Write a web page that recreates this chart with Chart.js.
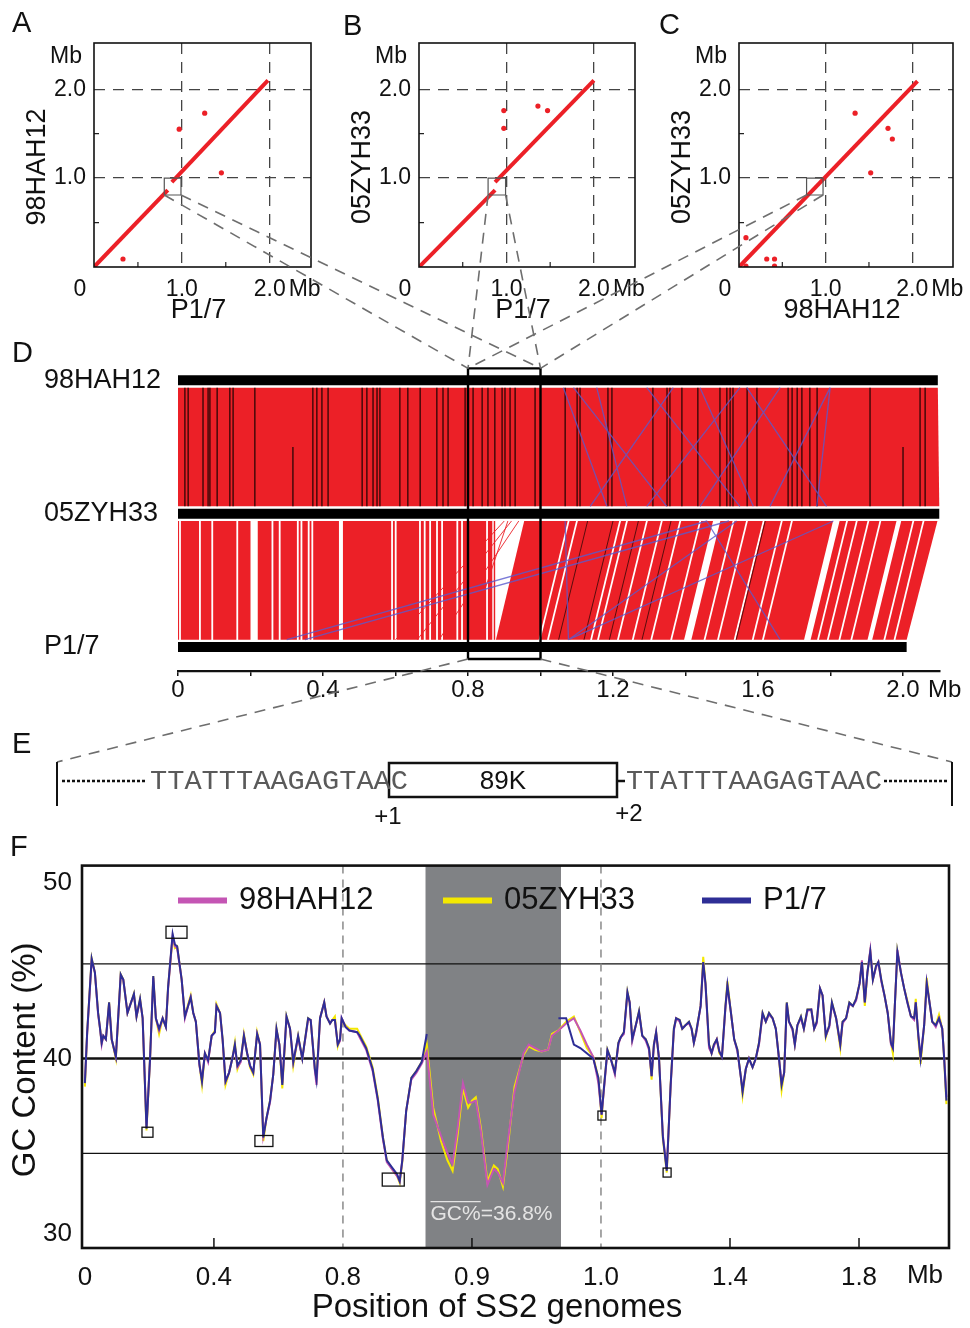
<!DOCTYPE html>
<html>
<head>
<meta charset="utf-8">
<title>SS2 genome comparison</title>
<script src="https://cdn.jsdelivr.net/npm/chart.js@4.4.1/dist/chart.umd.min.js"></script>
<style>
  html, body { margin: 0; padding: 0; background: #fff; }
  #page { position: relative; width: 970px; height: 1328px; overflow: hidden; }
  #page canvas, #page svg { position: absolute; }
</style>
</head>
<body>
<div id="page">
  <canvas id="dotA" width="320" height="330" style="left:0;top:0"></canvas>
  <canvas id="dotB" width="330" height="330" style="left:320px;top:0"></canvas>
  <canvas id="dotC" width="330" height="330" style="left:640px;top:0"></canvas>
  <canvas id="synteny" width="970" height="390" style="left:0;top:330px"></canvas>
  <canvas id="gcChart" width="970" height="488" style="left:0;top:840px"></canvas>
  <svg id="overlay" width="970" height="1328" style="left:0;top:0"></svg>
</div>
<script>
// ---------- data ----------
// A-C: dot plots (Mb), segments are [x0, y0, x1, y1]
const dotLinesA = [[0, 0, 0.84, 0.865], [0.886, 0.955, 1.98, 2.10]];
const dotPtsAx = [0.33, 0.97, 1.26, 1.45];
const dotPtsAy = [0.09, 1.55, 1.73, 1.06];
const boxA = [0.80, 0.81, 0.99, 1.00];

const dotLinesB = [[0, 0, 0.87, 0.865], [0.87, 0.955, 2.0, 2.10]];
const dotPtsBx = [0.97, 0.97, 1.36, 1.47];
const dotPtsBy = [1.76, 1.56, 1.81, 1.76];
const boxB = [0.79, 0.81, 0.99, 1.00];

const dotLinesC = [[0, 0, 2.06, 2.09]];
const dotPtsCx = [0.08, 0.32, 0.41, 0.41, 0.08, 1.34, 1.72, 1.77, 1.52];
const dotPtsCy = [0.33, 0.09, 0.09, 0.01, 0.01, 1.73, 1.56, 1.44, 1.06];
const boxC = [0.78, 0.81, 0.97, 1.00];

const dotTicks = [1, 2];
const dotMinorTicks = [0.5, 1.5];

// D: synteny between genomes
const genomeNames = ['98HAH12', '05ZYH33', 'P1/7'];
const genomeRows = [2, 1, 0];
const genomeLengths = [2.096, 2.10, 2.01];
const dZoomX = [0.8, 1.0];
const dZoomY = [-0.09, 2.09];
const dTickValues = [0, 0.2, 0.4, 0.6, 0.8, 1.0, 1.2, 1.4, 1.6, 1.8, 2.0];
const dTickLabels = ['0', '', '0.4', '', '0.8', '', '1.2', '', '1.6', '', '2.0'];

const topBlackLines = [0.019, 0.028, 0.069, 0.083, 0.088, 0.108, 0.143, 0.152, 0.212, 0.372, 0.383, 0.397,
  0.414, 0.508, 0.521, 0.538, 0.549, 0.557, 0.612, 0.634, 0.668, 0.714, 0.731, 0.745, 0.792, 0.814, 0.839,
  0.855, 0.874, 0.894, 0.902, 0.916, 0.930, 0.985, 1.068, 1.101, 1.109, 1.186, 1.197, 1.310, 1.349, 1.357,
  1.390, 1.434, 1.495, 1.514, 1.523, 1.531, 1.570, 1.597, 1.683, 1.694, 1.708, 1.721, 1.743, 1.763, 1.909,
  2.047, 2.061];
const topBlackShort = [0.317, 2.0];
const topLinks98 = [1.091, 1.155, 1.293, 1.550, 1.440, 1.569, 1.799, 1.799, 1.063, 1.366, 1.661];
const topLinks05 = [1.348, 1.238, 1.550, 1.293, 1.587, 1.789, 1.633, 1.762, 1.183, 1.137, 1.440];

// blocks 05ZYH33 vs P1/7: [top start, top end, bottom start, bottom end]
const bottomBlocks = [
  [0.000, 0.003, 0.000, 0.003], [0.008, 0.058, 0.008, 0.058], [0.063, 0.092, 0.063, 0.092],
  [0.097, 0.161, 0.097, 0.161], [0.166, 0.200, 0.166, 0.200], [0.220, 0.258, 0.220, 0.258],
  [0.263, 0.278, 0.263, 0.278], [0.283, 0.328, 0.283, 0.328], [0.333, 0.338, 0.333, 0.338],
  [0.343, 0.358, 0.343, 0.358], [0.363, 0.368, 0.363, 0.368], [0.373, 0.444, 0.373, 0.444],
  [0.455, 0.588, 0.455, 0.588], [0.593, 0.598, 0.593, 0.598], [0.603, 0.665, 0.603, 0.665],
  [0.670, 0.678, 0.670, 0.678], [0.683, 0.693, 0.683, 0.693], [0.698, 0.712, 0.698, 0.712],
  [0.717, 0.726, 0.717, 0.726], [0.731, 0.768, 0.731, 0.768], [0.773, 0.781, 0.773, 0.781],
  [0.786, 0.850, 0.786, 0.850], [0.855, 0.867, 0.855, 0.867], [0.871, 0.875, 0.871, 0.875],
  [0.955, 1.075, 0.877, 0.995], [1.080, 1.098, 1.000, 1.018], [1.103, 1.217, 1.023, 1.137],
  [1.222, 1.236, 1.142, 1.156], [1.241, 1.291, 1.161, 1.211], [1.296, 1.332, 1.216, 1.252],
  [1.337, 1.383, 1.257, 1.303], [1.388, 1.438, 1.308, 1.358], [1.443, 1.476, 1.363, 1.396],
  [1.496, 1.530, 1.416, 1.450], [1.535, 1.567, 1.455, 1.487], [1.572, 1.613, 1.492, 1.533],
  [1.618, 1.663, 1.538, 1.583], [1.668, 1.691, 1.588, 1.611], [1.696, 1.807, 1.616, 1.727],
  [1.825, 1.843, 1.745, 1.763], [1.848, 1.870, 1.768, 1.790], [1.875, 1.902, 1.795, 1.822],
  [1.907, 1.935, 1.827, 1.855], [1.940, 1.982, 1.860, 1.902], [1.995, 2.026, 1.915, 1.946],
  [2.031, 2.054, 1.951, 1.974], [2.059, 2.095, 1.979, 2.010]
];
const bottomBlackTop = [1.13, 1.20, 1.27, 1.36, 1.62];
const bottomBlackBot = [1.05, 1.12, 1.19, 1.28, 1.54];
const bottomLinks05 = [1.808, 1.541, 1.068, 1.458, 1.46, 1.52];
const bottomLinksP17 = [1.077, 1.077, 1.077, 1.661, 0.30, 0.35];
const bottomRedLinks05 = [0.90, 0.92, 0.94, 0.91];
const bottomRedLinksP17 = [0.60, 0.66, 0.72, 0.80];

// F: GC content (%) along genome position (Mb)
const gcSeriesNames = ['98HAH12', '05ZYH33', 'P1/7'];
const gcPos = [
  0.000, 0.007, 0.021, 0.031, 0.041, 0.047, 0.052, 0.057, 0.065, 0.075,
  0.083, 0.096, 0.111, 0.119, 0.132, 0.145, 0.152, 0.160, 0.171, 0.179,
  0.191, 0.202, 0.212, 0.220, 0.230, 0.241, 0.251, 0.258, 0.272, 0.279,
  0.286, 0.300, 0.310, 0.320, 0.328, 0.336, 0.344, 0.355, 0.363, 0.372,
  0.382, 0.393, 0.403, 0.408, 0.419, 0.427, 0.436, 0.447, 0.457, 0.465,
  0.473, 0.483, 0.493, 0.503, 0.512, 0.522, 0.534, 0.543, 0.553, 0.563,
  0.574, 0.584, 0.594, 0.603, 0.612, 0.625, 0.636, 0.646, 0.661, 0.674,
  0.692, 0.700, 0.713, 0.718, 0.729, 0.742, 0.749, 0.760, 0.767, 0.775,
  0.784, 0.791, 0.796, 0.802, 0.805, 0.811, 0.813, 0.818, 0.823, 0.827,
  0.831, 0.834, 0.838, 0.842, 0.844, 0.846, 0.849, 0.853, 0.857, 0.861,
  0.865, 0.870, 0.876, 0.881, 0.885, 0.889, 0.893, 0.897, 0.900, 0.903,
  0.907, 0.912, 0.917, 0.920, 0.924, 0.928, 0.933, 0.940, 0.944, 0.949,
  0.954, 0.959, 0.962, 0.967, 0.973, 0.979, 0.984, 0.989, 0.994, 0.998,
  1.002, 1.009, 1.020, 1.030, 1.043, 1.054, 1.061, 1.071, 1.082, 1.089,
  1.097, 1.108, 1.118, 1.128, 1.139, 1.149, 1.157, 1.164, 1.171, 1.180,
  1.192, 1.204, 1.216, 1.226, 1.233, 1.244, 1.252, 1.262, 1.273, 1.281,
  1.288, 1.295, 1.309, 1.317, 1.324, 1.335, 1.343, 1.350, 1.359, 1.367,
  1.375, 1.386, 1.392, 1.403, 1.413, 1.423, 1.434, 1.439, 1.449, 1.459,
  1.470, 1.480, 1.490, 1.501, 1.511, 1.521, 1.532, 1.542, 1.552, 1.560,
  1.568, 1.576, 1.583, 1.594, 1.601, 1.609, 1.620, 1.629, 1.640, 1.652,
  1.661, 1.669, 1.679, 1.687, 1.697, 1.708, 1.716, 1.729, 1.742, 1.749,
  1.760, 1.770, 1.781, 1.791, 1.802, 1.809, 1.818, 1.826, 1.835, 1.843,
  1.853, 1.860, 1.869, 1.879, 1.889, 1.899, 1.905, 1.911, 1.919, 1.930,
  1.940, 1.950, 1.961, 1.971, 1.976, 1.984, 1.991, 2.002, 2.010, 2.017,
  2.027, 2.038, 2.048, 2.058, 2.064, 2.071
];
const gc98 = [
  38.7, 41.4, 45.6, 44.9, 42.5, 41.7, 40.8, 41.3, 41.1, 43.1,
  41.1, 40.1, 44.7, 44.5, 42.6, 43.3, 43.6, 42.4, 43.3, 42.3,
  36.1, 40.0, 44.6, 42.3, 41.6, 42.3, 41.8, 44.0, 47.0, 46.4,
  46.3, 44.5, 42.3, 43.0, 43.5, 42.6, 42.1, 39.6, 38.8, 40.3,
  39.8, 41.3, 41.5, 43.0, 42.6, 41.0, 38.7, 39.2, 40.0, 40.7,
  39.5, 39.8, 41.3, 40.3, 39.6, 39.2, 41.4, 40.8, 35.6, 36.6,
  37.5, 39.1, 41.6, 40.8, 38.6, 42.3, 41.7, 39.8, 41.2, 40.0,
  42.2, 42.2, 39.3, 38.5, 42.3, 43.2, 42.4, 42.0, 42.2, 42.2,
  40.8, 41.0, 42.3, 41.8, 41.6, 41.5, 41.2, 40.5, 39.3, 37.6,
  35.4, 34.1, 33.7, 33.3, 33.0, 34.2, 37.0, 38.8, 39.2, 39.7,
  40.4, 36.8, 35.6, 34.6, 34.0, 36.1, 38.6, 37.5, 37.5, 37.6,
  35.8, 32.8, 33.7, 33.5, 32.9, 35.4, 38.1, 40.3, 40.8, 40.6,
  40.4, 40.5, 41.3, 41.6, 42.0, 42.3, 41.6, 40.8, 40.1, 38.6,
  36.8, 38.2, 40.4, 40.0, 39.1, 40.8, 41.2, 41.4, 43.7, 43.2,
  41.0, 41.9, 42.6, 41.3, 41.0, 40.5, 39.0, 40.7, 41.5, 40.0,
  35.6, 33.7, 38.4, 41.6, 42.3, 42.1, 41.7, 41.9, 42.0, 41.7,
  40.9, 41.4, 43.0, 45.4, 44.2, 40.6, 40.3, 40.7, 41.1, 40.4,
  40.1, 42.9, 44.1, 42.6, 41.1, 40.4, 38.9, 38.2, 39.4, 40.0,
  39.5, 40.0, 40.8, 42.5, 42.1, 42.5, 42.3, 41.7, 40.0, 38.6,
  39.2, 43.1, 42.1, 41.6, 40.8, 41.9, 42.3, 41.7, 42.7, 42.8,
  41.7, 42.0, 44.0, 43.6, 41.3, 41.8, 43.1, 42.3, 40.8, 42.0,
  42.3, 43.1, 43.0, 43.3, 44.3, 45.6, 43.2, 44.9, 46.2, 44.5,
  45.2, 45.5, 44.4, 43.6, 42.6, 40.8, 40.6, 43.0, 46.2, 44.9,
  44.0, 43.2, 42.4, 42.2, 43.2, 41.3, 40.1, 41.9, 44.3, 43.4,
  42.1, 41.8, 42.3, 41.7, 40.1, 37.8
];
const gc05 = [
  38.4, 41.5, 45.7, 44.9, 42.6, 41.7, 40.9, 41.3, 41.1, 43.2,
  41.1, 40.0, 44.8, 44.5, 42.6, 43.3, 43.7, 42.4, 43.4, 42.3,
  35.9, 40.0, 44.7, 42.3, 41.4, 42.3, 41.8, 44.1, 46.9, 46.3,
  46.4, 44.5, 42.4, 43.1, 43.6, 42.6, 42.1, 39.7, 38.5, 40.3,
  39.9, 41.3, 41.6, 43.1, 42.6, 41.1, 38.5, 39.2, 40.0, 40.9,
  39.4, 39.9, 41.4, 40.3, 39.5, 39.1, 41.5, 40.8, 35.3, 36.6,
  37.6, 39.1, 41.7, 40.8, 38.3, 42.4, 41.7, 39.6, 41.3, 40.0,
  42.3, 42.2, 39.4, 38.9, 42.3, 43.2, 42.4, 42.0, 42.2, 42.4,
  40.7, 41.1, 42.2, 41.9, 41.7, 41.7, 41.4, 40.7, 39.5, 37.8,
  35.5, 34.2, 33.7, 33.3, 32.9, 34.1, 37.0, 38.9, 39.3, 39.8,
  40.8, 37.2, 35.3, 34.2, 33.6, 35.7, 38.3, 37.2, 37.6, 37.8,
  36.0, 33.0, 33.9, 33.7, 32.7, 35.1, 38.4, 40.2, 40.7, 40.5,
  40.4, 40.5, 41.4, 41.6, 42.1, 42.4, 41.5, 40.6, 40.1, 38.9,
  36.6, 38.3, 40.5, 40.0, 39.2, 40.9, 41.2, 41.5, 43.8, 43.2,
  41.1, 41.9, 42.7, 41.3, 41.1, 40.6, 38.8, 40.8, 41.5, 40.0,
  35.4, 33.5, 38.5, 41.7, 42.3, 42.2, 41.7, 41.9, 42.1, 41.7,
  40.9, 41.5, 43.0, 45.8, 44.3, 40.8, 40.3, 40.8, 41.1, 40.3,
  40.1, 43.0, 44.4, 42.6, 41.1, 40.5, 38.9, 37.9, 39.4, 40.0,
  39.5, 40.0, 40.9, 42.6, 42.1, 42.6, 42.3, 41.7, 40.0, 38.2,
  39.2, 43.2, 42.1, 41.7, 40.8, 41.9, 42.4, 41.7, 42.8, 42.8,
  41.7, 42.1, 44.0, 43.6, 41.2, 41.9, 43.2, 42.3, 40.6, 42.1,
  42.3, 43.2, 43.0, 43.4, 44.3, 45.5, 43.0, 44.9, 46.1, 44.5,
  45.3, 45.5, 44.5, 43.6, 42.6, 40.9, 40.3, 43.0, 46.1, 44.9,
  44.0, 43.3, 42.4, 42.3, 43.4, 41.1, 39.7, 41.9, 44.6, 43.4,
  42.1, 41.9, 42.5, 41.7, 40.0, 37.4
];
// P1/7 lacks the 89K island, so no values there
const gcP17 = [
  38.6, 41.5, 45.7, 44.9, 42.6, 41.7, 40.9, 41.3, 41.1, 43.2,
  41.1, 40.1, 44.8, 44.5, 42.6, 43.3, 43.7, 42.4, 43.4, 42.3,
  36.0, 40.0, 44.7, 42.3, 41.7, 42.3, 41.8, 44.1, 47.1, 46.5,
  46.4, 44.5, 42.4, 43.0, 43.5, 42.6, 42.1, 39.7, 38.7, 40.3,
  39.9, 41.3, 41.5, 43.0, 42.6, 41.1, 38.7, 39.2, 40.0, 40.8,
  39.6, 39.9, 41.3, 40.3, 39.6, 39.2, 41.4, 40.8, 35.5, 36.6,
  37.6, 39.1, 41.7, 40.8, 38.5, 42.4, 41.7, 39.8, 41.3, 40.0,
  42.3, 42.2, 39.4, 38.8, 42.3, 43.2, 42.4, 42.0, 42.2, 42.2,
  40.8, 41.1, 42.3, 41.8, 41.6, 41.5, 41.3, 40.6, 39.4, 37.7,
  35.5, 34.2, 33.8, 33.4, 33.0, 34.2, 37.0, 38.9, 39.3, 39.8,
  41.4, null, null, null, null, null, null, null, null, null,
  null, null, null, null, null, null, null, null, null, null,
  null, null, null, 42.3, 42.3, 40.8, 40.6, 40.3, 40.0, 38.9,
  36.8, 38.3, 40.5, 40.0, 39.2, 40.9, 41.2, 41.5, 43.8, 43.2,
  41.1, 41.9, 42.7, 41.3, 41.1, 40.6, 39.0, 40.8, 41.5, 40.0,
  35.5, 33.6, 38.5, 41.7, 42.3, 42.2, 41.7, 41.9, 42.1, 41.7,
  40.9, 41.5, 43.0, 45.5, 44.3, 40.8, 40.3, 40.8, 41.1, 40.4,
  40.1, 43.0, 44.2, 42.6, 41.1, 40.5, 38.9, 38.1, 39.4, 40.0,
  39.5, 40.0, 40.9, 42.6, 42.1, 42.6, 42.3, 41.7, 40.0, 38.5,
  39.2, 43.2, 42.1, 41.7, 40.8, 41.9, 42.4, 41.7, 42.8, 42.8,
  41.7, 42.1, 44.0, 43.6, 41.3, 41.9, 43.2, 42.3, 40.8, 42.1,
  42.3, 43.2, 43.0, 43.4, 44.3, 45.5, 43.2, 44.9, 46.1, 44.5,
  45.3, 45.5, 44.5, 43.6, 42.6, 40.9, 40.6, 43.0, 46.1, 44.9,
  44.0, 43.2, 42.4, 42.3, 43.2, 41.3, 40.0, 41.9, 44.3, 43.4,
  42.1, 41.9, 42.3, 41.7, 40.0, 37.6
];
const gcIsland = [0.864, 0.969];
const gcBreaks = [0.8, 1.0];      // stretched part of the x axis
const gcZoomFactor = 4;
const gcRefLines = [45.4, 40.0, 34.6];
const gcTickMb = [0, 0.4, 0.8, 0.9, 1.0, 1.4, 1.8];
const gcInnerTickMb = [0.4, 0.9, 1.4, 1.8];
const gcYTicks = [50, 40, 30];
const gcBoxPos = [0.194, 0.284, 0.555, 0.839, 1.003, 1.205];
const gcBoxVal = [35.8, 47.2, 35.3, 33.1, 36.75, 33.5];
const gcMeanLabel = '36.8%';

// ---------- styles ----------
const fontSans = '"Liberation Sans", Arial, Helvetica, sans-serif';
const fontMono = '"Liberation Mono", "Courier New", monospace';
const red = '#ec2027';
const gcColors = ['#c455b4', '#f4e800', '#2e2e96'];
const gcBoxW = [11, 21, 18, 22, 8, 8];
const gcBoxH = [10, 12, 11, 13, 9, 9];

Chart.defaults.font.family = fontSans;
Chart.defaults.color = '#111';
Chart.defaults.animation = false;
Chart.defaults.plugins.legend.display = false;
Chart.defaults.plugins.tooltip.enabled = false;

function toU(p) {
  if (p <= gcBreaks[0]) return p;
  if (p <= gcBreaks[1]) return gcBreaks[0] + (p - gcBreaks[0]) * gcZoomFactor;
  return p + (gcBreaks[1] - gcBreaks[0]) * (gcZoomFactor - 1);
}

// ---------- A, B, C ----------
const dotDecor = {
  id: 'dotDecor',
  afterDraw(chart, args, opts) {
    const {ctx, chartArea: a, scales: {x, y}} = chart;
    ctx.save();
    ctx.strokeStyle = '#222';
    ctx.lineWidth = 1.2;
    dotMinorTicks.forEach(v => {
      const px = x.getPixelForValue(v), py = y.getPixelForValue(v);
      ctx.beginPath();
      ctx.moveTo(px, a.bottom); ctx.lineTo(px, a.bottom - 5);
      ctx.moveTo(a.left, py); ctx.lineTo(a.left + 5, py);
      ctx.stroke();
    });
    ctx.lineWidth = 1.6;
    ctx.strokeStyle = '#111';
    ctx.strokeRect(a.left, a.top, a.width, a.height);

    ctx.fillStyle = '#111';
    ctx.textBaseline = 'middle';
    ctx.font = '23px ' + fontSans;
    ctx.textAlign = 'right';
    ctx.fillText('Mb', a.left - 12, a.top + 14);
    ctx.textAlign = 'center';
    ctx.fillText('0', a.left - 14, a.bottom + 23);
    ctx.textAlign = 'left';
    ctx.fillText('Mb', x.getPixelForValue(2) + 19, a.bottom + 23);

    ctx.font = '27px ' + fontSans;
    ctx.textAlign = 'center';
    ctx.fillText(opts.xTitle, (a.left + a.right) / 2 - 4, a.bottom + 44);
    ctx.translate(a.left - 56, (a.top + a.bottom) / 2 + 12);
    ctx.rotate(-Math.PI / 2);
    ctx.fillText(opts.yTitle, 0, 0);
    ctx.restore();
  }
};

function dotplot(id, segs, ptsX, ptsY, box, xTitle, yTitle, areaLeft, padRight) {
  const datasets = [];
  datasets.push({
    data: [{x: box[0], y: box[1]}, {x: box[0], y: box[3]}, {x: box[2], y: box[3]}, {x: box[2], y: box[1]}, {x: box[0], y: box[1]}],
    showLine: true, borderColor: '#555', borderWidth: 1.2, pointRadius: 0
  });
  datasets.push({
    data: ptsX.map((v, i) => ({x: v, y: ptsY[i]})),
    pointRadius: 2.6, pointBackgroundColor: red, pointBorderWidth: 0
  });
  segs.forEach(s => datasets.push({
    data: [{x: s[0], y: s[1]}, {x: s[2], y: s[3]}],
    showLine: true, borderColor: red, borderWidth: 4, pointRadius: 0
  }));

  const tickFont = {size: 23};
  return new Chart(document.getElementById(id), {
    type: 'scatter',
    data: {datasets},
    options: {
      responsive: false,
      layout: {padding: {left: areaLeft - 60, right: padRight, top: 43, bottom: 23}},
      scales: {
        x: {
          type: 'linear', min: 0, max: 2.47,
          afterFit: s => { s.height = 40; },
          afterBuildTicks: s => { s.ticks = dotTicks.map(v => ({value: v})); },
          ticks: {callback: v => v.toFixed(1), font: tickFont, padding: 9, autoSkip: false, maxRotation: 0},
          grid: {color: '#444', lineWidth: 1.3, drawTicks: false},
          border: {display: false, dash: [11, 8]}
        },
        y: {
          type: 'linear', min: 0, max: 2.52,
          afterFit: s => { s.width = 60; },
          afterBuildTicks: s => { s.ticks = dotTicks.map(v => ({value: v})); },
          ticks: {callback: v => v.toFixed(1), font: tickFont, padding: 8},
          grid: {color: '#444', lineWidth: 1.3, drawTicks: false},
          border: {display: false, dash: [11, 8]}
        }
      },
      plugins: {dotDecor: {xTitle, yTitle}}
    },
    plugins: [dotDecor]
  });
}

const chartA = dotplot('dotA', dotLinesA, dotPtsAx, dotPtsAy, boxA, 'P1/7', '98HAH12', 94, 9);
const chartB = dotplot('dotB', dotLinesB, dotPtsBx, dotPtsBy, boxB, 'P1/7', '05ZYH33', 99, 15);
const chartC = dotplot('dotC', dotLinesC, dotPtsCx, dotPtsCy, boxC, '98HAH12', '05ZYH33', 99, 17);

// ---------- D ----------
const edgeGap = 0.055;
function polygon(t0, t1, b0, b1, yTop, yBot) {
  return [{x: t0, y: yTop}, {x: t1, y: yTop}, {x: b1, y: yBot}, {x: b0, y: yBot}, {x: t0, y: yTop}];
}
function links(tops, bots, yTop, yBot) {
  const pts = [];
  tops.forEach((t, i) => {
    pts.push({x: t, y: yTop}, {x: bots[i], y: yBot}, {x: bots[i], y: null});
  });
  return pts;
}

const topY0 = genomeRows[0] - edgeGap, topY1 = genomeRows[1] + edgeGap;
const botY0 = genomeRows[1] - edgeGap, botY1 = genomeRows[2] + edgeGap;
const dDatasets = [];

genomeRows.forEach((r, i) => dDatasets.push({
  data: [{x: 0, y: r}, {x: genomeLengths[i], y: r}],
  borderColor: '#000', borderWidth: 10, pointRadius: 0, order: 1
}));
dDatasets.push({
  data: [{x: dZoomX[0], y: dZoomY[0]}, {x: dZoomX[0], y: dZoomY[1]}, {x: dZoomX[1], y: dZoomY[1]},
         {x: dZoomX[1], y: dZoomY[0]}, {x: dZoomX[0], y: dZoomY[0]}],
  borderColor: '#000', borderWidth: 2.4, pointRadius: 0, order: 0
});
dDatasets.push({
  data: polygon(0, genomeLengths[0], 0, genomeLengths[1], topY0, topY1),
  fill: 'shape', backgroundColor: red, borderColor: 'rgba(0,0,0,0)', borderWidth: 0, pointRadius: 0, order: 10
});
bottomBlocks.forEach(b => dDatasets.push({
  data: polygon(b[0], b[1], b[2], b[3], botY0, botY1),
  fill: 'shape', backgroundColor: red, borderColor: 'rgba(0,0,0,0)', borderWidth: 0, pointRadius: 0, order: 10
}));
dDatasets.push({
  data: links(topBlackLines, topBlackLines, topY0, topY1),
  borderColor: '#3a0808', borderWidth: 1.4, pointRadius: 0, order: 6
});
dDatasets.push({
  data: links(topBlackShort, topBlackShort, 1.5, topY1),
  borderColor: '#3a0808', borderWidth: 1.4, pointRadius: 0, order: 6
});
dDatasets.push({
  data: links(bottomBlackTop, bottomBlackBot, botY0, botY1),
  borderColor: '#5a0c0c', borderWidth: 1, pointRadius: 0, order: 6
});
dDatasets.push({
  data: links(bottomRedLinks05, bottomRedLinksP17, botY0, botY1),
  borderColor: red, borderWidth: 0.9, pointRadius: 0, order: 7
});
dDatasets.push({
  data: links(topLinks98, topLinks05, topY0, topY1),
  borderColor: 'rgba(90,90,205,0.8)', borderWidth: 1.3, pointRadius: 0, order: 5
});
dDatasets.push({
  data: links(bottomLinks05, bottomLinksP17, botY0, botY1),
  borderColor: 'rgba(90,90,205,0.8)', borderWidth: 1.3, pointRadius: 0, order: 5
});

const syntenyDecor = {
  id: 'syntenyDecor',
  afterDraw(chart) {
    const {ctx, scales: {x}, chartArea: a} = chart;
    ctx.save();
    ctx.fillStyle = '#111';
    ctx.font = '24px ' + fontSans;
    ctx.textAlign = 'left';
    ctx.textBaseline = 'middle';
    ctx.fillText('Mb', x.getPixelForValue(2.0) + 25, a.bottom + 19);
    ctx.restore();
  }
};

const chartD = new Chart(document.getElementById('synteny'), {
  type: 'line',
  data: {datasets: dDatasets},
  options: {
    responsive: false,
    layout: {padding: {left: 44, right: 30, top: 37, bottom: 9}},
    scales: {
      x: {
        type: 'linear', min: 0, max: 2.102,
        afterFit: s => { s.height = 40; },
        afterBuildTicks: s => { s.ticks = dTickValues.map(v => ({value: v})); },
        ticks: {callback: (v, i) => dTickLabels[i], font: {size: 24}, padding: 0, autoSkip: false, maxRotation: 0},
        grid: {drawOnChartArea: false, drawTicks: true, tickLength: 5, color: '#111', lineWidth: 1.5},
        border: {display: true, width: 2.2, color: '#111'}
      },
      y: {
        type: 'linear', min: -0.18, max: 2.1,
        afterFit: s => { s.width = 134; },
        afterBuildTicks: s => { s.ticks = genomeRows.map(v => ({value: v})); },
        ticks: {callback: v => genomeNames[genomeRows.indexOf(v)], font: {size: 27}, crossAlign: 'far', padding: 0},
        grid: {display: false, drawTicks: false},
        border: {display: false}
      }
    }
  },
  plugins: [syntenyDecor]
});

// ---------- F ----------
const gcDecor = {
  id: 'gcDecor',
  beforeDatasetsDraw(chart) {
    const {ctx, chartArea: a, scales: {x, y}} = chart;
    ctx.save();
    const g0 = x.getPixelForValue(toU(gcIsland[0])), g1 = x.getPixelForValue(toU(gcIsland[1]));
    ctx.fillStyle = '#808285';
    ctx.fillRect(g0, a.top, g1 - g0, a.height);

    gcRefLines.forEach((v, i) => {
      const py = y.getPixelForValue(v);
      ctx.strokeStyle = '#111';
      ctx.lineWidth = i === 1 ? 2.6 : 1.2;
      ctx.beginPath(); ctx.moveTo(a.left, py); ctx.lineTo(a.right, py); ctx.stroke();
    });

    ctx.strokeStyle = '#8a8a8a';
    ctx.lineWidth = 1.5;
    ctx.setLineDash([8, 6]);
    gcBreaks.forEach(p => {
      const px = x.getPixelForValue(toU(p));
      ctx.beginPath(); ctx.moveTo(px, a.top); ctx.lineTo(px, a.bottom); ctx.stroke();
    });
    ctx.setLineDash([]);

    ctx.strokeStyle = '#111';
    ctx.lineWidth = 1.5;
    gcInnerTickMb.forEach(p => {
      const px = x.getPixelForValue(toU(p));
      ctx.beginPath(); ctx.moveTo(px, a.bottom); ctx.lineTo(px, a.bottom - 10); ctx.stroke();
    });
    ctx.restore();
  },
  afterDatasetsDraw(chart) {
    const {ctx, chartArea: a, scales: {x, y}} = chart;
    ctx.save();
    ctx.strokeStyle = '#111';
    ctx.lineWidth = 1.3;
    gcBoxPos.forEach((p, i) => {
      const px = x.getPixelForValue(toU(p)), py = y.getPixelForValue(gcBoxVal[i]);
      ctx.strokeRect(px - gcBoxW[i] / 2, py - gcBoxH[i] / 2, gcBoxW[i], gcBoxH[i]);
    });

    ctx.lineWidth = 2.6;
    ctx.strokeRect(a.left, a.top, a.width, a.height);

    // legend inside the plot
    const legendX = [178, 443, 702];
    const legendY = a.top + 35;
    ctx.font = '31px ' + fontSans;
    ctx.textBaseline = 'middle';
    ctx.textAlign = 'left';
    gcSeriesNames.forEach((name, i) => {
      ctx.strokeStyle = gcColors[i];
      ctx.lineWidth = 6;
      ctx.beginPath(); ctx.moveTo(legendX[i], legendY); ctx.lineTo(legendX[i] + 49, legendY); ctx.stroke();
      ctx.fillStyle = '#111';
      ctx.fillText(name, legendX[i] + 61, legendY);
    });

    // island mean GC
    const g0 = x.getPixelForValue(toU(gcIsland[0]));
    const ty = y.getPixelForValue(31.1);
    ctx.font = '21px "Liberation Sans Narrow", ' + fontSans;
    ctx.fillStyle = '#e4e4e4';
    ctx.fillText('GC%=' + gcMeanLabel, g0 + 5, ty);
    const w = ctx.measureText('GC%').width;
    ctx.strokeStyle = '#e4e4e4';
    ctx.lineWidth = 1.2;
    ctx.beginPath(); ctx.moveTo(g0 + 5, ty - 13); ctx.lineTo(g0 + 5 + w, ty - 13); ctx.stroke();

    // unit and axis titles
    ctx.fillStyle = '#111';
    ctx.font = '26px ' + fontSans;
    ctx.textAlign = 'center';
    ctx.fillText('Mb', a.right - 24, a.bottom + 28);
    ctx.font = '33px ' + fontSans;
    ctx.fillText('Position of SS2 genomes', 497, a.bottom + 60);
    ctx.translate(26, (a.top + a.bottom) / 2 + 3);
    ctx.rotate(-Math.PI / 2);
    ctx.fillText('GC Content (%)', 0, 0);
    ctx.restore();
  }
};

const gcSeries = [gc98, gc05, gcP17];
const gcOrder = [2, 3, 1];
const chartF = new Chart(document.getElementById('gcChart'), {
  type: 'line',
  data: {
    datasets: gcSeries.map((vals, k) => ({
      label: gcSeriesNames[k],
      data: gcPos.map((p, i) => ({x: toU(p), y: vals[i]})),
      borderColor: gcColors[k], borderWidth: 2, pointRadius: 0, tension: 0,
      spanGaps: false, order: gcOrder[k]
    }))
  },
  options: {
    responsive: false,
    layout: {padding: {left: 12, right: 21, top: 22, bottom: 20}},
    scales: {
      x: {
        type: 'linear', min: -0.009, max: 2.679,
        afterFit: s => { s.height = 60; },
        afterBuildTicks: s => { s.ticks = gcTickMb.map(p => ({value: toU(p)})); },
        ticks: {callback: (v, i) => (gcTickMb[i] === 0 ? '0' : gcTickMb[i].toFixed(1)), font: {size: 26}, padding: 14, autoSkip: false, maxRotation: 0},
        grid: {display: false, drawTicks: false},
        border: {display: false}
      },
      y: {
        min: 29.2, max: 51,
        afterFit: s => { s.width = 70; },
        afterBuildTicks: s => { s.ticks = gcYTicks.map(v => ({value: v})); },
        ticks: {font: {size: 26}, padding: 10},
        grid: {display: false, drawTicks: false},
        border: {display: false}
      }
    }
  },
  plugins: [gcDecor]
});

// ---------- overlay: panel letters, E, connectors ----------
const svgNS = 'http://www.w3.org/2000/svg';
const overlay = document.getElementById('overlay');
function svgEl(tag, attrs, text) {
  const el = document.createElementNS(svgNS, tag);
  for (const k in attrs) el.setAttribute(k, attrs[k]);
  if (text) el.textContent = text;
  overlay.appendChild(el);
  return el;
}
function pagePt(chart, xv, yv) {
  const c = chart.canvas;
  return [c.offsetLeft + chart.scales.x.getPixelForValue(xv), c.offsetTop + chart.scales.y.getPixelForValue(yv)];
}
function dashed(p, q) {
  svgEl('line', {x1: p[0], y1: p[1], x2: q[0], y2: q[1], stroke: '#6e6e6e', 'stroke-width': 1.6, 'stroke-dasharray': '11 8'});
}

const eLeft = 57, eRight = 952, eTop = 762, eBottom = 806, eMid = 781;
const dTL = pagePt(chartD, dZoomX[0], dZoomY[1]), dTR = pagePt(chartD, dZoomX[1], dZoomY[1]);
const dBL = pagePt(chartD, dZoomX[0], dZoomY[0]), dBR = pagePt(chartD, dZoomX[1], dZoomY[0]);
[[chartA, boxA], [chartB, boxB], [chartC, boxC]].forEach(([ch, b]) => {
  dashed(pagePt(ch, b[0], b[1]), dTL);
  dashed(pagePt(ch, b[2], b[1]), dTR);
});
dashed(dBL, [eLeft, eTop]);
dashed(dBR, [eRight, eTop]);

[['A', 12, 32], ['B', 343, 35], ['C', 659, 34], ['D', 12, 362], ['E', 12, 753], ['F', 10, 856]].forEach(([t, x, y]) => {
  svgEl('text', {x, y, 'font-family': fontSans, 'font-size': 29, fill: '#111'}, t);
});

// E: 89K island insertion site
const seq = 'TTATTTAAGAGTAAC';
svgEl('line', {x1: eLeft, y1: eTop, x2: eLeft, y2: eBottom, stroke: '#111', 'stroke-width': 2});
svgEl('line', {x1: eRight, y1: eTop, x2: eRight, y2: eBottom, stroke: '#111', 'stroke-width': 2});
svgEl('line', {x1: 62, y1: eMid, x2: 147, y2: eMid, stroke: '#111', 'stroke-width': 2.5, 'stroke-dasharray': '3 2'});
svgEl('line', {x1: 884, y1: eMid, x2: 948, y2: eMid, stroke: '#111', 'stroke-width': 2.5, 'stroke-dasharray': '3 2'});
svgEl('line', {x1: 617, y1: eMid, x2: 625, y2: eMid, stroke: '#111', 'stroke-width': 2.5});
svgEl('rect', {x: 389, y: 763, width: 228, height: 34, fill: 'none', stroke: '#111', 'stroke-width': 2.5});
svgEl('text', {x: 150, y: 789, 'font-family': fontMono, 'font-size': 28, fill: '#5a5a5a', textLength: 258, lengthAdjust: 'spacingAndGlyphs'}, seq);
svgEl('text', {x: 626, y: 789, 'font-family': fontMono, 'font-size': 28, fill: '#5a5a5a', textLength: 256, lengthAdjust: 'spacingAndGlyphs'}, seq);
svgEl('text', {x: 503, y: 789, 'font-family': fontSans, 'font-size': 26, fill: '#111', 'text-anchor': 'middle'}, '89K');
svgEl('text', {x: 388, y: 824, 'font-family': fontSans, 'font-size': 24, fill: '#111', 'text-anchor': 'middle'}, '+1');
svgEl('text', {x: 629, y: 821, 'font-family': fontSans, 'font-size': 24, fill: '#111', 'text-anchor': 'middle'}, '+2');
</script>
</body>
</html>
